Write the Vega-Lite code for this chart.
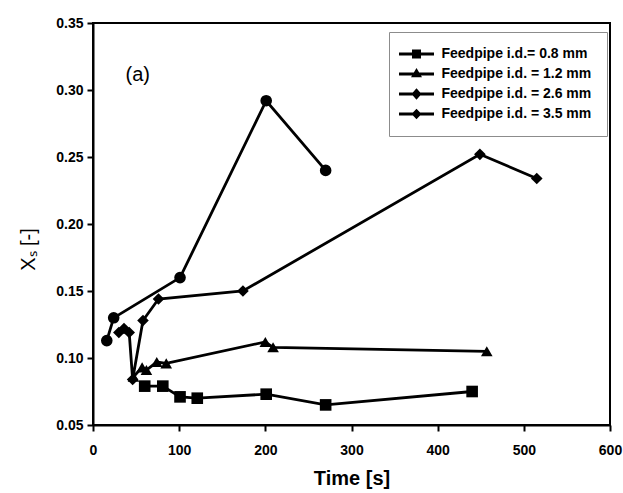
{
  "$schema": "https://vega.github.io/schema/vega-lite/v6.json",
  "width": 517,
  "height": 402,
  "autosize": {"type": "none"},
  "padding": {"left": 93, "top": 23, "right": 13, "bottom": 68},
  "background": "white",
  "config": {
    "view": {"stroke": "black", "strokeWidth": 2},
    "font": "Liberation Sans"
  },
  "datasets": {
    "series": [
      {"series": "Feedpipe i.d.= 0.8 mm", "time": 60, "xs": 0.079},
      {"series": "Feedpipe i.d.= 0.8 mm", "time": 81, "xs": 0.079},
      {"series": "Feedpipe i.d.= 0.8 mm", "time": 101, "xs": 0.071},
      {"series": "Feedpipe i.d.= 0.8 mm", "time": 121, "xs": 0.070},
      {"series": "Feedpipe i.d.= 0.8 mm", "time": 201, "xs": 0.073},
      {"series": "Feedpipe i.d.= 0.8 mm", "time": 270, "xs": 0.065},
      {"series": "Feedpipe i.d.= 0.8 mm", "time": 440, "xs": 0.075},
      {"series": "Feedpipe i.d. = 1.2 mm", "time": 47, "xs": 0.086},
      {"series": "Feedpipe i.d. = 1.2 mm", "time": 57, "xs": 0.093},
      {"series": "Feedpipe i.d. = 1.2 mm", "time": 62, "xs": 0.091},
      {"series": "Feedpipe i.d. = 1.2 mm", "time": 74, "xs": 0.097},
      {"series": "Feedpipe i.d. = 1.2 mm", "time": 85, "xs": 0.096},
      {"series": "Feedpipe i.d. = 1.2 mm", "time": 200, "xs": 0.112},
      {"series": "Feedpipe i.d. = 1.2 mm", "time": 209, "xs": 0.108},
      {"series": "Feedpipe i.d. = 1.2 mm", "time": 457, "xs": 0.105},
      {"series": "Feedpipe i.d. = 2.6 mm", "time": 30, "xs": 0.119},
      {"series": "Feedpipe i.d. = 2.6 mm", "time": 36, "xs": 0.122},
      {"series": "Feedpipe i.d. = 2.6 mm", "time": 42, "xs": 0.119},
      {"series": "Feedpipe i.d. = 2.6 mm", "time": 46, "xs": 0.084},
      {"series": "Feedpipe i.d. = 2.6 mm", "time": 58, "xs": 0.128},
      {"series": "Feedpipe i.d. = 2.6 mm", "time": 76, "xs": 0.144},
      {"series": "Feedpipe i.d. = 2.6 mm", "time": 174, "xs": 0.150},
      {"series": "Feedpipe i.d. = 2.6 mm", "time": 449, "xs": 0.252},
      {"series": "Feedpipe i.d. = 2.6 mm", "time": 515, "xs": 0.234},
      {"series": "Feedpipe i.d. = 3.5 mm", "time": 16, "xs": 0.113},
      {"series": "Feedpipe i.d. = 3.5 mm", "time": 24, "xs": 0.130},
      {"series": "Feedpipe i.d. = 3.5 mm", "time": 101, "xs": 0.160},
      {"series": "Feedpipe i.d. = 3.5 mm", "time": 201, "xs": 0.292},
      {"series": "Feedpipe i.d. = 3.5 mm", "time": 270, "xs": 0.240}
    ],
    "notes": [
      {"label": "(a)", "time": 52, "xs": 0.311}
    ]
  },
  "resolve": {"scale": {"shape": "independent"}, "legend": {"shape": "independent"}},
  "layer": [
    {
      "data": {"name": "series"},
      "mark": {"type": "line", "color": "black", "strokeWidth": 2.8},
      "encoding": {
        "x": {
          "field": "time", "type": "quantitative",
          "scale": {"domain": [0, 600], "nice": false},
          "axis": {
            "values": [0, 100, 200, 300, 400, 500, 600],
            "grid": false,
            "domainColor": "black", "domainWidth": 2,
            "tickColor": "black", "tickWidth": 2, "tickSize": 6,
            "labelFont": "Liberation Sans", "labelFontWeight": "bold", "labelFontSize": 14,
            "labelColor": "black", "labelPadding": 12, "labelFlush": false,
            "title": "Time [s]",
            "titleFont": "Liberation Sans", "titleFontSize": 20, "titleFontWeight": "bold",
            "titleColor": "black", "titleY": 53, "titleBaseline": "middle"
          }
        },
        "y": {
          "field": "xs", "type": "quantitative",
          "scale": {"domain": [0.05, 0.35], "nice": false, "zero": false},
          "axis": {
            "values": [0.05, 0.1, 0.15, 0.2, 0.25, 0.3, 0.35],
            "format": ".2f",
            "grid": false,
            "domainColor": "black", "domainWidth": 2,
            "tickColor": "black", "tickWidth": 2, "tickSize": 6,
            "labelFont": "Liberation Sans", "labelFontWeight": "bold", "labelFontSize": 14,
            "labelColor": "black", "labelPadding": 4, "labelFlush": false,
            "title": "Xₛ [-]",
            "titleFont": "Liberation Sans", "titleFontSize": 20, "titleFontWeight": "normal",
            "titleColor": "black", "titleX": -65, "titleY": 226, "titleAngle": -90,
            "titleAlign": "center", "titleBaseline": "middle"
          }
        },
        "detail": {"field": "series", "type": "nominal"}
      }
    },
    {
      "data": {"name": "series"},
      "mark": {"type": "point", "filled": true, "color": "black", "size": 135, "opacity": 1},
      "encoding": {
        "x": {"field": "time", "type": "quantitative"},
        "y": {"field": "xs", "type": "quantitative"},
        "shape": {
          "field": "series", "type": "nominal",
          "scale": {
            "domain": ["Feedpipe i.d.= 0.8 mm", "Feedpipe i.d. = 1.2 mm", "Feedpipe i.d. = 2.6 mm", "Feedpipe i.d. = 3.5 mm"],
            "range": ["square", "triangle-up", "diamond", "circle"]
          },
          "legend": null
        }
      }
    },
    {
      "data": {"name": "series"},
      "transform": [{"filter": "false"}],
      "mark": {"type": "point", "filled": true, "color": "black", "opacity": 1},
      "encoding": {
        "x": {"field": "time", "type": "quantitative"},
        "y": {"field": "xs", "type": "quantitative"},
        "shape": {
          "field": "series", "type": "nominal",
          "scale": {
            "domain": ["Feedpipe i.d.= 0.8 mm", "Feedpipe i.d. = 1.2 mm", "Feedpipe i.d. = 2.6 mm", "Feedpipe i.d. = 3.5 mm"],
            "range": [
              "M-3.5,-0.28H3.5V0.28H-3.5ZM-0.9,-0.9H0.9V0.9H-0.9Z",
              "M-3.5,-0.28H3.5V0.28H-3.5ZM0,-1.2L1.1,0.65H-1.1Z",
              "M-3.5,-0.28H3.5V0.28H-3.5ZM0,-1.15L1.0,0L0,1.15L-1.0,0Z",
              "M-3.5,-0.28H3.5V0.28H-3.5ZM0,-1.05L1.0,0L0,1.05L-1.0,0Z"
            ]
          },
          "legend": {
            "orient": "none", "legendX": 296, "legendY": 9,
            "title": null,
            "padding": 15,
            "fillColor": "white", "strokeColor": "#8c8c8c",
            "labelFont": "Liberation Sans", "labelFontWeight": "bold", "labelFontSize": 14,
            "labelColor": "black", "labelLimit": 300, "labelOffset": 18,
            "symbolSize": 100, "symbolOffset": 5.5, "rowPadding": 6,
            "symbolFillColor": "black", "symbolStrokeColor": "black",
            "symbolStrokeWidth": 0, "symbolOpacity": 1
          }
        }
      }
    },
    {
      "data": {"name": "notes"},
      "mark": {"type": "text", "font": "Liberation Sans", "fontSize": 20, "color": "black"},
      "encoding": {
        "x": {"field": "time", "type": "quantitative"},
        "y": {"field": "xs", "type": "quantitative"},
        "text": {"field": "label"}
      }
    }
  ]
}
